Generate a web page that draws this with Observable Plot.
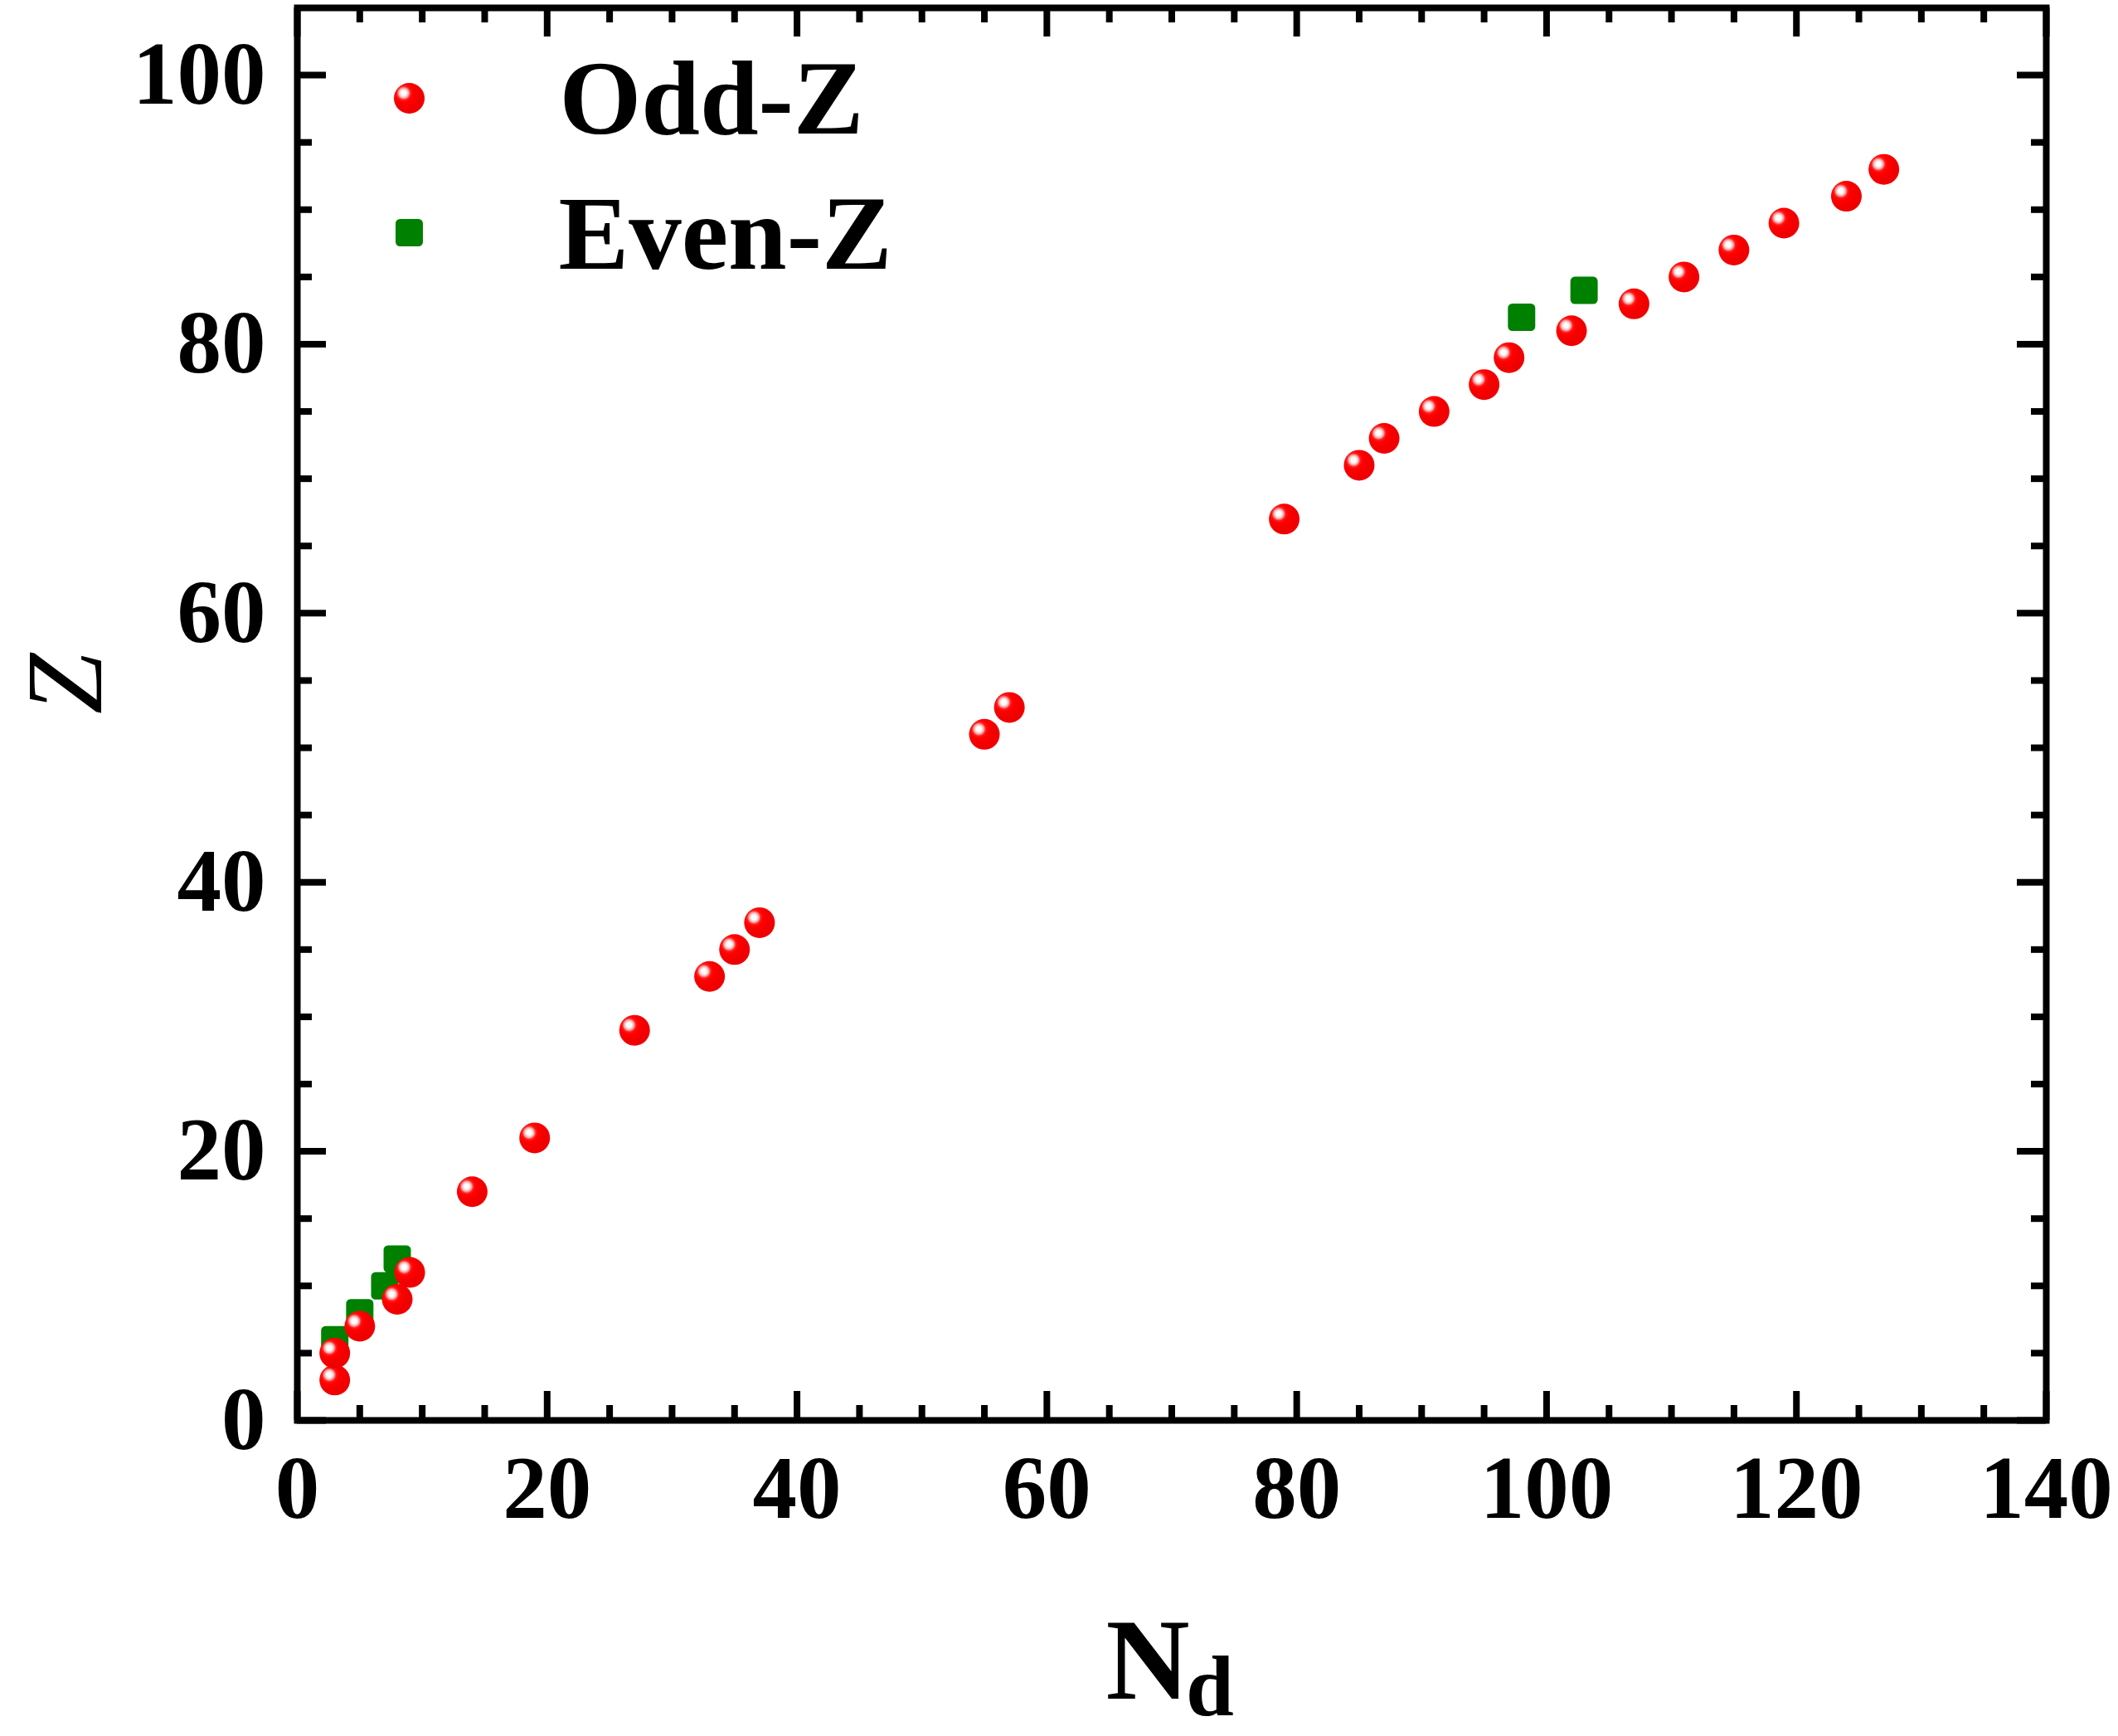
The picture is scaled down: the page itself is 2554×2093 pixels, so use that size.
<!DOCTYPE html>
<html><head><meta charset="utf-8">
<script src="https://cdn.jsdelivr.net/npm/d3@7"></script>
<script src="https://cdn.jsdelivr.net/npm/@observablehq/plot@0.6"></script>
<style>html,body{margin:0;padding:0;background:#fff;} #chart svg{display:block;}</style>
</head><body><div id="chart"></div>
<script>
// Data
const oddN = [3, 3, 5, 8, 9, 14, 19, 27, 33, 35, 37, 55, 57, 79, 85, 87, 91, 95, 97, 102, 107, 111, 115, 119, 124, 127];
const oddZ = [3, 5, 7, 9, 11, 17, 21, 29, 33, 35, 37, 51, 53, 67, 71, 73, 75, 77, 79, 81, 83, 85, 87, 89, 91, 93];
const evenN = [3, 5, 7, 8, 98, 103];
const evenZ = [6, 8, 10, 12, 82, 84];
const seriesNames = ["Odd-Z", "Even-Z"];
const xTicks = [0, 20, 40, 60, 80, 100, 120, 140];
const xMinor = [5, 10, 15, 25, 30, 35, 45, 50, 55, 65, 70, 75, 85, 90, 95, 105, 110, 115, 125, 130, 135];
const yTicks = [0, 20, 40, 60, 80, 100];
const yMinor = [5, 10, 15, 25, 30, 35, 45, 50, 55, 65, 70, 75, 85, 90, 95];
const xLabel = "N", xLabelSub = "d", yLabel = "Z";

const odd = oddN.map((n, i) => ({n, z: oddZ[i]}));
const even = evenN.map((n, i) => ({n, z: evenZ[i]}));

const W = 2554, H = 2093, mL = 358, mR = 87, mT = 9, mB = 381;
const innerW = W - mL - mR, innerH = H - mT - mB;
const major = 35, minor = 18, sw = 8;
const font = "'Liberation Serif', 'Times New Roman', serif";

const roundedSquare = {
  draw(ctx, size) {
    const s = Math.sqrt(size), h = s / 2, rr = s * 0.16;
    ctx.moveTo(-h + rr, -h);
    ctx.arcTo(h, -h, h, h, rr);
    ctx.arcTo(h, h, -h, h, rr);
    ctx.arcTo(-h, h, -h, -h, rr);
    ctx.arcTo(-h, -h, h, -h, rr);
    ctx.closePath();
  }
};

const sphere = "url(#sphere)";
const green = "#008000";
const rDot = 18.5, rSq = 18.6;

const svg = Plot.plot({
  width: W, height: H,
  marginLeft: mL, marginRight: mR, marginTop: mT, marginBottom: mB,
  style: {fontFamily: font, background: "#fff", color: "#000"},
  x: {domain: [0, 140]},
  y: {domain: [0, 105]},
  marks: [
    // data
    Plot.dot(even, {x: "n", y: "z", symbol: roundedSquare, r: rSq, fill: green, stroke: "none"}),
    Plot.dot(odd, {x: "n", y: "z", r: rDot, fill: sphere, stroke: "none"}),
    // ticks (inward, on all four sides)
    Plot.tickX(xTicks, {x: d => d, insetTop: innerH - major, strokeWidth: sw}),
    Plot.tickX(xTicks, {x: d => d, insetBottom: innerH - major, strokeWidth: sw}),
    Plot.tickX(xMinor, {x: d => d, insetTop: innerH - minor, strokeWidth: sw}),
    Plot.tickX(xMinor, {x: d => d, insetBottom: innerH - minor, strokeWidth: sw}),
    Plot.tickY(yTicks, {y: d => d, insetRight: innerW - major, strokeWidth: sw}),
    Plot.tickY(yTicks, {y: d => d, insetLeft: innerW - major, strokeWidth: sw}),
    Plot.tickY(yMinor, {y: d => d, insetRight: innerW - minor, strokeWidth: sw}),
    Plot.tickY(yMinor, {y: d => d, insetLeft: innerW - minor, strokeWidth: sw}),
    Plot.frame({strokeWidth: sw, stroke: "#000"}),
    // tick labels
    Plot.axisX({ticks: xTicks, tickSize: 0, tickPadding: 42, label: null, fontSize: 107, fontWeight: "bold", fill: "#000"}),
    Plot.axisY({ticks: yTicks, tickSize: 0, tickPadding: 38, label: null, fontSize: 107, fontWeight: "bold", fill: "#000"}),
    // axis titles
    Plot.text([yLabel], {frameAnchor: "left", dx: -279, rotate: -90, lineAnchor: "middle", fontSize: 132, fontStyle: "italic", fill: "#000"}),
    Plot.text([xLabel], {frameAnchor: "bottom", dx: -29, dy: 335, lineAnchor: "bottom", fontSize: 140, fontWeight: "bold", fill: "#000"}),
    Plot.text([xLabelSub], {frameAnchor: "bottom", dx: 46, dy: 355, lineAnchor: "bottom", fontSize: 104, fontWeight: "bold", fill: "#000"}),
    // legend
    Plot.dot([seriesNames[0]], {frameAnchor: "top-left", dx: 135, dy: 109, r: rDot, fill: sphere, stroke: "none"}),
    Plot.dot([seriesNames[1]], {frameAnchor: "top-left", dx: 135, dy: 271, r: rSq, symbol: roundedSquare, fill: green, stroke: "none"}),
    Plot.text([seriesNames[0]], {frameAnchor: "top-left", dx: 316, dy: 151, textAnchor: "start", lineAnchor: "bottom", fontSize: 127, fontWeight: "bold", fill: "#000"}),
    Plot.text([seriesNames[1]], {frameAnchor: "top-left", dx: 315, dy: 314, textAnchor: "start", lineAnchor: "bottom", fontSize: 127, fontWeight: "bold", fill: "#000"})
  ]
});

// radial gradient for the glossy red spheres
const defs = d3.select(svg).insert("defs", ":first-child");
const g = defs.append("radialGradient").attr("id", "sphere")
  .attr("cx", 0.32).attr("cy", 0.33).attr("r", 0.55).attr("fx", 0.32).attr("fy", 0.33);
[[0, "#ffffff"], [0.14, "#ffffff"], [0.28, "#ffb3b3"], [0.41, "#ff1a1a"], [0.55, "#ff0000"], [1, "#f00000"]]
  .forEach(([o, c]) => g.append("stop").attr("offset", o).attr("stop-color", c));

document.getElementById("chart").appendChild(svg);
</script>
</body></html>
